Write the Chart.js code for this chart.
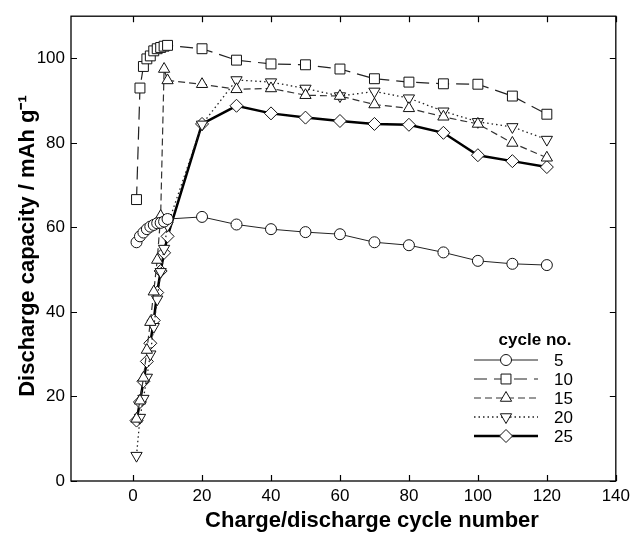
<!DOCTYPE html>
<html>
<head>
<meta charset="utf-8">
<script src="https://cdn.jsdelivr.net/npm/chart.js@4/dist/chart.umd.min.js"></script>
<style>
  body { margin: 0; background: #fff; }
  #wrap { width: 635px; height: 534px; }
</style>
</head>
<body>
<div id="wrap"><canvas id="chartCycles" width="635" height="534"></canvas></div>
<script>
// cycle numbers where the capacity was measured
const cycles = [1, 2, 3, 4, 5, 6, 7, 8, 9, 10, 20, 30, 40, 50, 60, 70, 80, 90, 100, 110, 120];

// discharge capacity (mAh/g), one array per charge cycle number
const cap5  = [56.5, 57.9, 58.8, 59.6, 60.2, 60.6, 61.0, 61.1, 61.4, 62.0, 62.5, 60.7, 59.6, 58.9, 58.4, 56.5, 55.8, 54.1, 52.1, 51.4, 51.1];
const cap10 = [66.6, 93.0, 98.1, 99.9, 100.6, 101.8, 102.3, 102.6, 102.9, 103.1, 102.3, 99.6, 98.7, 98.5, 97.5, 95.2, 94.4, 94.0, 93.9, 91.1, 86.8];
const cap15 = [14.7, 19.0, 24.4, 31.0, 37.6, 44.8, 52.3, 62.7, 97.5, 94.8, 93.9, 92.7, 92.9, 91.3, 91.1, 89.1, 88.2, 86.2, 84.5, 80.0, 76.5];
const cap20 = [6.0, 15.0, 19.5, 24.5, 30.0, 36.5, 43.0, 49.5, 55.0, 60.5, 84.4, 94.9, 94.4, 92.9, 91.1, 92.2, 90.6, 87.5, 85.0, 83.8, 80.8];
const cap25 = [14.3, 18.7, 23.6, 28.3, 32.6, 38.0, 44.6, 49.7, 54.0, 57.9, 84.5, 88.8, 87.0, 86.0, 85.2, 84.5, 84.3, 82.4, 77.1, 75.7, 74.3];

const seriesLabels = ['5', '10', '15', '20', '25'];
const xTicks = [0, 20, 40, 60, 80, 100, 120, 140];
const yTicks = [0, 20, 40, 60, 80, 100];

const FONT = 'Arial, "Liberation Sans", sans-serif';

const styles = [
  { pointStyle: 'circle',   radius: 5.5, rotation: 0,   dash: [],      width: 1,   color: '#222' },
  { pointStyle: 'rect',     radius: 7,   rotation: 0,   dash: [13, 7], width: 1.2, color: '#222' },
  { pointStyle: 'triangle', radius: 6.5, rotation: 0,   dash: [7, 4],  width: 1.2, color: '#333' },
  { pointStyle: 'triangle', radius: 6.5, rotation: 180, dash: [1.5, 3], width: 1.3, color: '#222' },
  { pointStyle: 'rectRot',  radius: 6.5, rotation: 0,   dash: [],      width: 2.5, color: '#000' }
];

const values = [cap5, cap10, cap15, cap20, cap25];

const datasets = values.map((vals, i) => ({
  label: seriesLabels[i],
  data: cycles.map((c, j) => ({ x: c, y: vals[j] })),
  showLine: true,
  borderColor: styles[i].color,
  borderWidth: styles[i].width,
  borderDash: styles[i].dash,
  pointStyle: styles[i].pointStyle,
  pointRadius: styles[i].radius,
  pointRotation: styles[i].rotation,
  pointBackgroundColor: '#fff',
  pointBorderColor: '#111',
  pointBorderWidth: 1,
  tension: 0
}));

// frame, inward ticks on all four sides, axis titles and the legend box
const framePlugin = {
  id: 'frame',
  afterDraw(chart) {
    const ctx = chart.ctx;
    const a = chart.chartArea;
    const xs = chart.scales.x, ys = chart.scales.y;
    ctx.save();
    ctx.strokeStyle = '#000';
    ctx.lineWidth = 1.3;
    ctx.strokeRect(a.left, a.top, a.right - a.left, a.bottom - a.top);

    ctx.lineWidth = 1.2;
    ctx.beginPath();
    xTicks.forEach(v => {
      const px = Math.round(xs.getPixelForValue(v)) + 0.5;
      ctx.moveTo(px, a.bottom); ctx.lineTo(px, a.bottom - 6);
      ctx.moveTo(px, a.top);    ctx.lineTo(px, a.top + 6);
    });
    yTicks.forEach(v => {
      const py = Math.round(ys.getPixelForValue(v)) + 0.5;
      ctx.moveTo(a.left, py);  ctx.lineTo(a.left + 6, py);
      ctx.moveTo(a.right, py); ctx.lineTo(a.right - 6, py);
    });
    ctx.stroke();

    // axis titles
    ctx.fillStyle = '#000';
    ctx.font = 'bold 22px ' + FONT;
    ctx.textAlign = 'center';
    ctx.textBaseline = 'middle';
    ctx.fillText('Charge/discharge cycle number', 372, 521);

    ctx.save();
    ctx.translate(28, 246);
    ctx.rotate(-Math.PI / 2);
    ctx.fillText('Discharge capacity / mAh g⁻¹', 0, 0);
    ctx.restore();

    // legend
    ctx.font = 'bold 17px ' + FONT;
    ctx.fillText('cycle no.', 535, 340);
    ctx.font = '17px ' + FONT;
    ctx.textAlign = 'left';
    const rows = [360, 379, 398, 417, 436];
    chart.data.datasets.forEach((ds, i) => {
      const y = rows[i];
      ctx.save();
      ctx.strokeStyle = ds.borderColor;
      ctx.lineWidth = ds.borderWidth;
      ctx.setLineDash(ds.borderDash);
      ctx.beginPath();
      ctx.moveTo(474, y); ctx.lineTo(538, y);
      ctx.stroke();
      ctx.restore();
      ctx.save();
      ctx.fillStyle = '#fff';
      ctx.strokeStyle = '#111';
      ctx.lineWidth = 1;
      Chart.helpers.drawPoint(ctx, {
        pointStyle: ds.pointStyle, radius: ds.pointRadius,
        rotation: ds.pointRotation, borderWidth: 1
      }, 506, y);
      ctx.restore();
      ctx.fillText(ds.label, 554, y + 1);
    });
    ctx.restore();
  }
};

const ctx = document.getElementById('chartCycles').getContext('2d');
new Chart(ctx, {
  type: 'scatter',
  data: { datasets: datasets },
  options: {
    responsive: false,
    animation: false,
    layout: { padding: { left: 0, right: 13, top: 10, bottom: 0 } },
    plugins: { legend: { display: false }, tooltip: { enabled: false } },
    scales: {
      x: {
        type: 'linear', min: -18, max: 140,
        afterBuildTicks: s => { s.ticks = xTicks.map(v => ({ value: v })); },
        afterFit: s => { s.height = 53; },
        grid: { display: false, drawTicks: false },
        border: { display: false },
        ticks: { color: '#000', font: { family: FONT, size: 17 }, padding: 5, maxRotation: 0 }
      },
      y: {
        type: 'linear', min: 0, max: 110,
        afterBuildTicks: s => { s.ticks = yTicks.map(v => ({ value: v })); },
        afterFit: s => { s.width = 71; },
        grid: { display: false, drawTicks: false },
        border: { display: false },
        ticks: { color: '#000', font: { family: FONT, size: 17 }, padding: 6 }
      }
    }
  },
  plugins: [framePlugin]
});
</script>
</body>
</html>
